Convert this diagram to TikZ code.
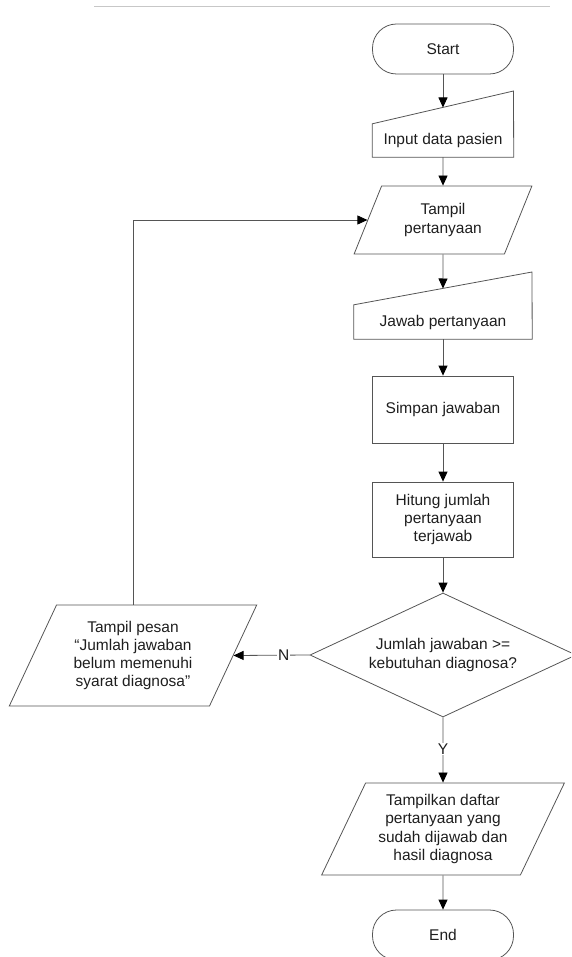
\documentclass[tikz,border=0pt]{standalone}
\usepackage{fontspec}
\setmainfont{Liberation Sans}
\usetikzlibrary{shapes.geometric,arrows.meta}
\definecolor{ln}{HTML}{555555}
\definecolor{tx}{HTML}{1E1E1E}
\begin{document}
\begin{tikzpicture}[x=1pt,y=-1pt,
  every node/.style={font=\fontsize{15.5}{18.2}\selectfont, text=tx},
  shape line/.style={draw=ln, line width=0.8pt},
  term/.style={shape line, rectangle, rounded corners=24pt, minimum width=141pt, minimum height=50pt, inner sep=0pt},
  proc/.style={shape line, rectangle, minimum width=141pt, inner sep=0pt, align=center},
  para/.style={shape line, trapezium, trapezium left angle=62, trapezium right angle=118, trapezium stretches=true, inner sep=0pt, align=center},
  dec/.style={shape line, diamond, minimum width=266pt, minimum height=124pt, inner sep=0pt, aspect=2.15, align=center},
  txt/.style={inner sep=0pt, align=center},
  conn/.style={draw=ln, line width=0.8pt, -{Triangle[length=10pt,width=9pt,color=black]}},
  lab/.style={fill=white, inner sep=1pt}
]
\useasboundingbox (0,0) rectangle (571,957);
\clip (0,0) rectangle (571,957);

\draw[draw=black!22, line width=1pt] (94,6.5) -- (550,6.5);

\node[term] (start) at (443,49) {Start};

\node[txt, minimum width=141pt, minimum height=33pt] (inp) at (443,140.5) {Input data pasien};
\draw[shape line] (inp.north west) -- (513.5,91) -- (inp.south east) -- (inp.south west) -- cycle;
\coordinate (inpin) at (443,107.5);

\node[para, minimum width=178pt, minimum height=68pt] (tampil) at (443,220) {Tampil\\pertanyaan};

\node[txt, minimum width=178pt, minimum height=34pt] (jawab) at (443,322) {Jawab pertanyaan};
\draw[shape line] (jawab.north west) -- (532,272) -- (jawab.south east) -- (jawab.south west) -- cycle;
\coordinate (jawabin) at (443,288.5);

\node[proc, minimum height=67pt] (simpan) at (443,409.5) {Simpan jawaban};
\node[proc, minimum height=75pt] (hitung) at (443,519.5) {Hitung jumlah\\pertanyaan\\terjawab};
\node[dec] (dec) at (443,655) {Jumlah jawaban >=\\kebutuhan diagnosa?};
\node[para, minimum width=248pt, minimum height=101pt] (pesan) at (133,655.5) {Tampil pesan\\“Jumlah jawaban\\belum memenuhi\\syarat diagnosa"};
\node[para, minimum width=243pt, minimum height=92pt] (hasil) at (443,829) {Tampilkan daftar\\pertanyaan yang\\sudah dijawab dan\\hasil diagnosa};
\node[term] (end) at (443,935) {End};

\draw[conn] (start.south) -- (inpin);
\draw[conn] (inp.south) -- (tampil.north);
\draw[conn] (tampil.south) -- (jawabin);
\draw[conn] (jawab.south) -- (simpan.north);
\draw[conn] (simpan.south) -- (hitung.north);
\draw[conn] (hitung.south) -- (dec.north);
\draw[conn] (dec.west) -- node[lab, pos=0.34]{N} (pesan.east);
\draw[conn] (dec.south) -- node[lab, pos=0.485]{Y} (hasil.north);
\draw[conn] (hasil.south) -- (end.north);
\draw[conn] (pesan.north) |- (tampil.west);
\end{tikzpicture}
\end{document}
